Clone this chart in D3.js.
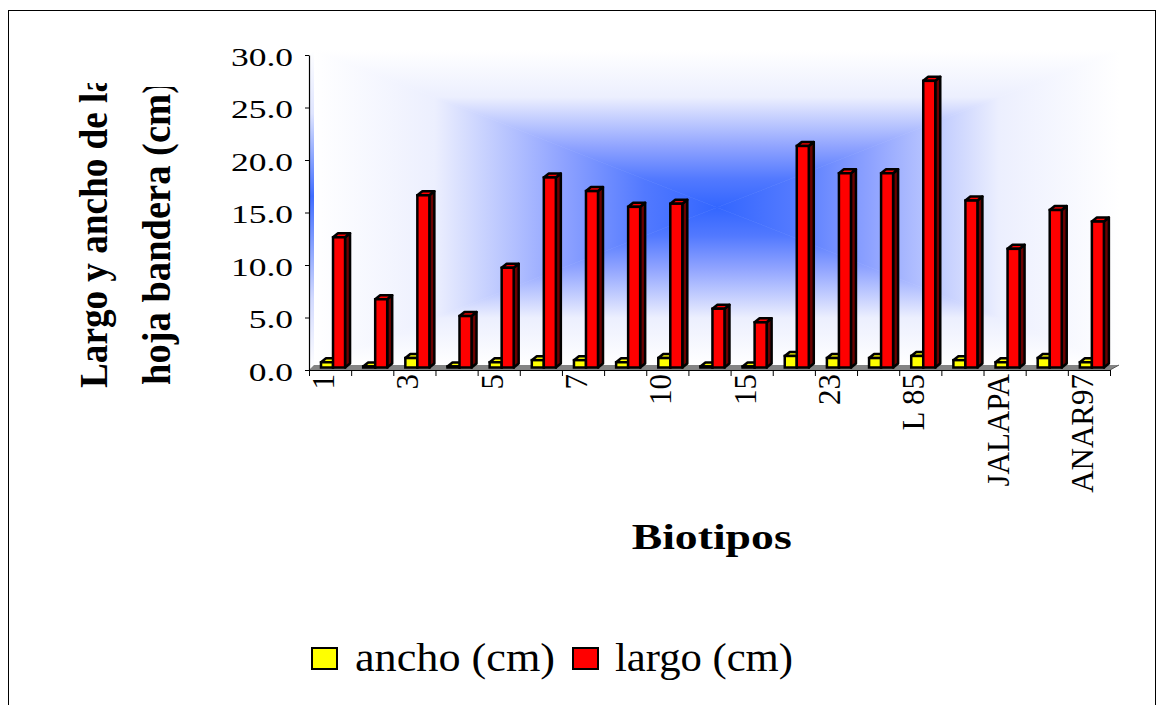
<!DOCTYPE html>
<html>
<head>
<meta charset="utf-8">
<script src="https://cdn.jsdelivr.net/npm/d3@7"></script>
<style>
  body { margin: 0; background: #fff; }
  svg { display: block; }
  text { font-family: "Liberation Serif", "Times New Roman", serif; fill: #000; }
</style>
</head>
<body>
<svg id="chart" width="1157" height="705"></svg>
<script>
// Category labels shown under every other biotype column
const tickLabels = ["1", "3", "5", "7", "10", "15", "23", "L 85", "JALAPA", "ANAR97"];
const categoryCount = 19;

// Flag-leaf width and length per biotype (cm)
const ancho = [0.5, 0.1, 0.9, 0.1, 0.5, 0.7, 0.7, 0.5, 0.9, 0.1, 0.1, 1.1, 0.9, 0.9, 1.1, 0.7, 0.5, 0.9, 0.5];
const largo = [12.4, 6.5, 16.4, 4.9, 9.5, 18.1, 16.8, 15.3, 15.6, 5.6, 4.3, 21.1, 18.5, 18.5, 27.3, 15.9, 11.3, 15.0, 13.9];

const yTicks = [0, 5, 10, 15, 20, 25, 30];
const seriesNames = ["ancho (cm)", "largo (cm)"];
const seriesFill = ["#FFFF00", "#FF0000"];
const seriesSide = ["#6b6b00", "#6b0000"];

const svg = d3.select("#chart");
const defs = svg.append("defs");

// frame
svg.append("rect")
  .attr("x", 8.5).attr("y", 10.5).attr("width", 1147).attr("height", 720)
  .attr("fill", "#fff").attr("stroke", "#000").attr("stroke-width", 1);

// scales
const x = d3.scaleBand().domain(d3.range(categoryCount)).range([309, 1110]);
const xEdge = d3.scaleLinear().domain([0, categoryCount]).range([309, 1110]);
const y = d3.scaleLinear().domain([0, 30]).range([370, 55]);
const bw = x.bandwidth();
const xs = d3.scaleBand().domain([0, 1]).range([bw * 0.285, bw * 0.855]);

// 3-D depth of the walls and columns
const depthX = 5, depthY = 4, frontShift = 2.5;

// back wall: rectangular "from centre" gradient built from four triangles
const wall = { l: 314, r: 1120, t: 50, b: 365 };
const cx = (wall.l + wall.r) / 2, cy = (wall.t + wall.b) / 2;
const wallStops = [
  [0, "#ffffff"], [0.3, "#eceffe"], [0.62, "#8ea2ff"], [0.82, "#5279ff"], [1, "#3366ff"]
];
function addGrad(id, x1, y1, x2, y2, stops) {
  const g = defs.append("linearGradient").attr("id", id)
    .attr("gradientUnits", "userSpaceOnUse")
    .attr("x1", x1).attr("y1", y1).attr("x2", x2).attr("y2", y2);
  stops.forEach(s => g.append("stop").attr("offset", s[0]).attr("stop-color", s[1]));
}
addGrad("gTop", cx, wall.t, cx, cy, wallStops);
addGrad("gBot", cx, wall.b, cx, cy, wallStops);
addGrad("gLeft", wall.l, cy, cx, cy, wallStops);
addGrad("gRight", wall.r, cy, cx, cy, wallStops);
addGrad("gSide", 0, 50, 0, 368, [
  [0, "#ffffff"], [0.2, "#dfe5ff"], [0.46, "#3f6cff"], [0.78, "#d2daff"], [1, "#ffffff"]
]);

const wallG = svg.append("g");
const tri = [
  ["gTop", [[wall.l, wall.t], [wall.r, wall.t], [cx, cy]]],
  ["gBot", [[wall.l, wall.b], [wall.r, wall.b], [cx, cy]]],
  ["gLeft", [[wall.l, wall.t], [wall.l, wall.b], [cx, cy]]],
  ["gRight", [[wall.r, wall.t], [wall.r, wall.b], [cx, cy]]]
];
tri.forEach(([id, pts]) => {
  wallG.append("polygon")
    .attr("points", pts.map(p => p.join(",")).join(" "))
    .attr("fill", `url(#${id})`).attr("stroke", `url(#${id})`).attr("stroke-width", 0.6);
});

// left side wall
svg.append("polygon")
  .attr("points", [[309, y(0)], [309, y(30)], [309 + depthX, y(30) - depthY], [309 + depthX, y(0) - depthY]]
    .map(p => p.join(",")).join(" "))
  .attr("fill", "url(#gSide)");

// floor
svg.append("polygon")
  .attr("points", [[309, y(0)], [1110, y(0)], [1110 + 9, y(0) - depthY - 1], [309 + depthX, y(0) - depthY - 1]]
    .map(p => p.join(",")).join(" "))
  .attr("fill", "#848484");
svg.append("line")
  .attr("x1", 1110).attr("y1", y(0)).attr("x2", 1119).attr("y2", y(0) - depthY - 1)
  .attr("stroke", "#555").attr("stroke-width", 1);

// columns
const barsG = svg.append("g");
function column(g, x0, w, v, fill, side) {
  const base = y(0) - frontShift;
  const top = y(v) - frontShift;
  const x1 = x0 + w;
  const poly = pts => pts.map(p => p.join(",")).join(" ");
  g.append("polygon")
    .attr("points", poly([[x1, top], [x1 + depthX, top - depthY], [x1 + depthX, base - depthY], [x1, base]]))
    .attr("fill", side).attr("stroke", "#000").attr("stroke-width", 2.5).attr("stroke-linejoin", "round");
  g.append("polygon")
    .attr("points", poly([[x0, top], [x0 + depthX, top - depthY], [x1 + depthX, top - depthY], [x1, top]]))
    .attr("fill", fill).attr("stroke", "#000").attr("stroke-width", 2.5).attr("stroke-linejoin", "round");
  g.append("rect")
    .attr("x", x0).attr("y", top).attr("width", w).attr("height", base - top)
    .attr("fill", fill).attr("stroke", "#000").attr("stroke-width", 2.5);
}
d3.range(categoryCount).forEach(i => {
  [ancho, largo].forEach((series, s) => {
    column(barsG, x(i) + xs(s), xs.bandwidth(), series[i], seriesFill[s], seriesSide[s]);
  });
});

// value axis
const yAxisG = svg.append("g").attr("transform", "translate(309,0)")
  .call(d3.axisLeft(y).tickValues(yTicks).tickSize(4).tickSizeOuter(0).tickFormat(d3.format(".1f")));
yAxisG.select(".domain").attr("stroke", "#000").attr("stroke-width", 1.2);
yAxisG.selectAll(".tick line").attr("stroke", "#000");
yAxisG.selectAll(".tick text")
  .attr("x", null).attr("dy", null)
  .attr("transform", "translate(-16,10) scale(1.42,1)")
  .attr("text-anchor", "end")
  .style("font-family", '"Liberation Serif", serif')
  .style("font-size", "25px").attr("fill", "#000");

// category axis (ticks on column boundaries)
const xAxisG = svg.append("g").attr("transform", `translate(0,${y(0)})`)
  .call(d3.axisBottom(xEdge).tickValues(d3.range(categoryCount + 1)).tickSize(6).tickSizeOuter(0).tickFormat(""));
xAxisG.select(".domain").attr("stroke", "#000").attr("stroke-width", 1.2);
xAxisG.selectAll(".tick line").attr("stroke", "#000");

svg.append("g").selectAll("text")
  .data(tickLabels)
  .join("text")
  .attr("transform", (d, k) => `translate(${x(k * 2) + bw / 2 + 4},374) rotate(-90)`)
  .attr("text-anchor", "end")
  .style("font-size", "31px")
  .text(d => d);

// axis titles
svg.append("text")
  .attr("x", 711.7).attr("y", 549)
  .attr("text-anchor", "middle")
  .attr("textLength", 160).attr("lengthAdjust", "spacingAndGlyphs")
  .style("font-size", "36px").style("font-weight", "bold")
  .text("Biotipos");

const titleLines = [
  { text: "Largo y ancho de la", bx: 107, start: 388, len: 314, clipTop: 83 },
  { text: "hoja bandera (cm)", bx: 170, start: 385, len: 304, clipTop: 87 }
];
titleLines.forEach((ln, k) => {
  defs.append("clipPath").attr("id", "yTitleClip" + k)
    .append("rect").attr("x", 0).attr("y", ln.clipTop).attr("width", 300).attr("height", 600);
  svg.append("g").attr("clip-path", `url(#yTitleClip${k})`)
    .append("text")
    .attr("transform", `translate(${ln.bx},${ln.start}) rotate(-90)`)
    .attr("textLength", ln.len).attr("lengthAdjust", "spacingAndGlyphs")
    .style("font-size", "39px").style("font-weight", "bold")
    .text(ln.text);
});

// legend
const legendItems = [
  { box: 312, tx: 355, len: 200 },
  { box: 573, tx: 615, len: 178 }
];
const legG = svg.append("g");
legendItems.forEach((it, s) => {
  legG.append("rect")
    .attr("x", it.box).attr("y", 648).attr("width", 25).attr("height", 21)
    .attr("fill", seriesFill[s]).attr("stroke", "#000").attr("stroke-width", 2);
  legG.append("text")
    .attr("x", it.tx).attr("y", 671)
    .attr("textLength", it.len).attr("lengthAdjust", "spacingAndGlyphs")
    .style("font-size", "39px")
    .text(seriesNames[s]);
});
</script>
</body>
</html>
